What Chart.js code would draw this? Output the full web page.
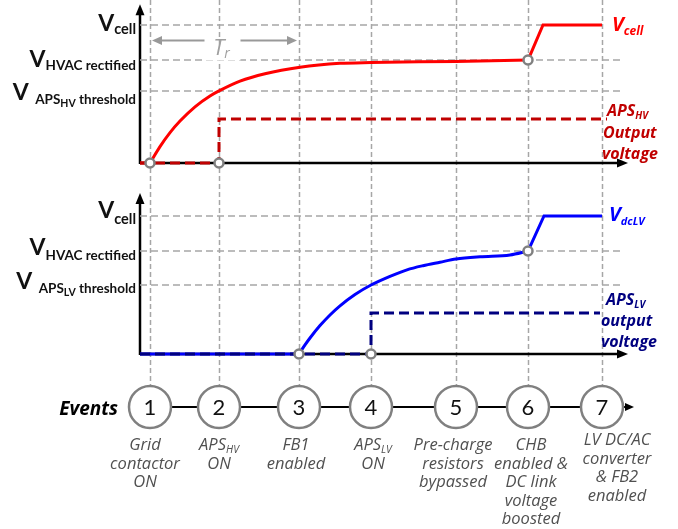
<!DOCTYPE html>
<html><head><meta charset="utf-8">
<script src="https://cdn.jsdelivr.net/npm/chart.js@4.4.0/dist/chart.umd.min.js"></script>
<style>html,body{margin:0;padding:0;background:#fff;}#wrap{position:relative;width:678px;height:529px;}</style>
</head><body><div id="wrap"><canvas id="c" width="678" height="529"></canvas></div>
<script>
// ---- data ----
const eventTimes = [2, 15.8, 31.8, 46.2, 63.2, 77.6, 92.4];
const eventNumbers = ['1','2','3','4','5','6','7'];
const eventDescriptions = [
  ['Grid','contactor','ON'],
  [['APS','HV'],'ON'],
  ['FB1','enabled'],
  [['APS','LV'],'ON'],
  ['Pre-charge','resistors','bypassed'],
  ['CHB','enabled &','DC link','voltage','boosted'],
  ['LV DC/AC','converter','& FB2','enabled']
];
// top panel levels (% of Vcell): Vcell, HVAC rectified, APS_HV threshold
const topLevels = [100, 74.6, 52.2];
const botLevels = [100, 74.6, 50];
// HV side voltage
const hvStartT = [0, 2];            const hvStartV = [0, 0];
const hvCurveT = [2, 4, 6, 8, 11, 14, 15.8, 20, 25, 32, 40, 46.2, 63.2, 77.6];
const hvCurveV = [0, 11.9, 22, 30.4, 40.7, 48.5, 52.2, 59.3, 64.7, 69.4, 72.2, 72.8, 73.6, 74.6];
const hvBoostT = [77.6, 80.6, 92.4]; const hvBoostV = [74.6, 100, 100];
const apsHvT = [0, 15.8, 15.8, 93.4]; const apsHvV = [0, 0, 31.9, 31.9];
// LV side voltage
const lvStartT = [0, 31.8];         const lvStartV = [0, 0];
const lvCurveT = [31.8, 33, 34, 36, 38, 40, 43, 46.2, 50, 53.4, 56.6, 60, 63.2, 68, 74, 77.6];
const lvCurveV = [0, 6.6, 11.6, 20.6, 28.3, 34.9, 43.1, 50, 56.3, 61, 64, 66.5, 68.8, 70.5, 71.8, 74.6];
const lvBoostT = [77.6, 80.8, 92.4]; const lvBoostV = [74.6, 100, 100];
const apsLvT = [0, 46.2, 46.2, 92];  const apsLvV = [0, 0, 29.7, 29.7];
// event markers
const topMarkT = [2, 15.8, 77.6]; const topMarkV = [0, 0, 74.6];
const botMarkT = [31.8, 46.2, 77.6]; const botMarkV = [0, 0, 74.6];

const zip = (t, v) => t.map((x, i) => ({x: x, y: v[i]}));
const GRID = '#a6a6a6';

function lineDs(t, v, axis, color, width, opts) {
  return Object.assign({data: zip(t, v), yAxisID: axis, borderColor: color, backgroundColor: color,
    borderWidth: width, pointRadius: 0, showLine: true, fill: false, tension: 0}, opts || {});
}
function gridDs(level, end, axis) {
  return lineDs([0, end], [level, level], axis, GRID, 1.5, {borderDash: [7, 4], order: 9});
}
function markDs(t, v, axis) {
  return {data: zip(t, v), yAxisID: axis, showLine: false, pointRadius: 4.5, pointBorderWidth: 2.5,
    pointBorderColor: '#808080', pointBackgroundColor: '#ffffff', order: 0};
}

const datasets = [
  gridDs(topLevels[0], 92.6, 'yTop'), gridDs(topLevels[1], 96.4, 'yTop'), gridDs(topLevels[2], 96.4, 'yTop'),
  gridDs(botLevels[0], 92.6, 'yBot'), gridDs(botLevels[1], 96.4, 'yBot'), gridDs(botLevels[2], 96.4, 'yBot'),
  lineDs(hvStartT, hvStartV, 'yTop', '#ff0000', 3, {order: 3}),
  lineDs(hvCurveT, hvCurveV, 'yTop', '#ff0000', 3, {order: 3, cubicInterpolationMode: 'monotone'}),
  lineDs(hvBoostT, hvBoostV, 'yTop', '#ff0000', 3, {order: 3}),
  lineDs(apsHvT, apsHvV, 'yTop', '#c00000', 3, {order: 2, borderDash: [10, 5]}),
  lineDs(lvStartT, lvStartV, 'yBot', '#0000ff', 3, {order: 3}),
  lineDs(lvCurveT, lvCurveV, 'yBot', '#0000ff', 3, {order: 3, cubicInterpolationMode: 'monotone'}),
  lineDs(lvBoostT, lvBoostV, 'yBot', '#0000ff', 3, {order: 3}),
  lineDs(apsLvT, apsLvV, 'yBot', '#000080', 3, {order: 2, borderDash: [10, 5]}),
  markDs(topMarkT, topMarkV, 'yTop'),
  markDs(botMarkT, botMarkV, 'yBot'),
  lineDs([eventTimes[0], 97.4], [0, 0], 'yEv', '#000000', 2, {order: 4}),
  {data: eventTimes.map(t => ({x: t, y: 0})), yAxisID: 'yEv', showLine: false, pointRadius: 21,
   pointBorderWidth: 2.5, pointBorderColor: '#808080', pointBackgroundColor: '#ffffff', order: 1}
];

function rich(ctx, x, y, parts, align) {
  let w = 0;
  parts.forEach(p => { ctx.font = p[1]; w += ctx.measureText(p[0]).width; });
  let sx = align === 'right' ? x - w : (align === 'center' ? x - w / 2 : x);
  ctx.textAlign = 'left';
  parts.forEach(p => {
    ctx.font = p[1]; ctx.fillStyle = p[3];
    ctx.fillText(p[0], sx, y + (p[2] || 0));
    sx += ctx.measureText(p[0]).width;
  });
}
function arrowHead(ctx, tipX, tipY, dir, len, half, color) {
  ctx.fillStyle = color; ctx.beginPath();
  if (dir === 'up') { ctx.moveTo(tipX, tipY); ctx.lineTo(tipX - half, tipY + len); ctx.lineTo(tipX + half, tipY + len); }
  else if (dir === 'right') { ctx.moveTo(tipX, tipY); ctx.lineTo(tipX - len, tipY - half); ctx.lineTo(tipX - len, tipY + half); }
  else { ctx.moveTo(tipX, tipY); ctx.lineTo(tipX + len, tipY - half); ctx.lineTo(tipX + len, tipY + half); }
  ctx.closePath(); ctx.fill();
}

const F = '"Open Sans", Lato, sans-serif';
const L = 'Lato, "Open Sans", sans-serif';
const deco = {
  id: 'deco',
  beforeDatasetsDraw(chart) {
    const ctx = chart.ctx, xs = chart.scales.x, yT = chart.scales.yTop, yB = chart.scales.yBot, yE = chart.scales.yEv;
    ctx.save();
    // vertical event gridlines
    ctx.strokeStyle = GRID; ctx.lineWidth = 1.5; ctx.setLineDash([5, 3]);
    eventTimes.forEach(t => {
      const px = Math.round(xs.getPixelForValue(t)) + 0.5;
      ctx.beginPath(); ctx.moveTo(px, 0); ctx.lineTo(px, yE.getPixelForValue(0) - 21); ctx.stroke();
    });
    ctx.setLineDash([]);
    // axes
    ctx.strokeStyle = '#000'; ctx.lineWidth = 2.5;
    [[yT, 115], [yB, 116.7]].forEach(([ys, top]) => {
      const x0 = xs.getPixelForValue(0), y0 = ys.getPixelForValue(0);
      const xe = xs.getPixelForValue(97.6), ye = ys.getPixelForValue(top);
      ctx.beginPath(); ctx.moveTo(x0, y0); ctx.lineTo(xe - 8, y0); ctx.stroke();
      ctx.beginPath(); ctx.moveTo(x0, y0 + 1); ctx.lineTo(x0, ye + 8); ctx.stroke();
      arrowHead(ctx, xe, y0, 'right', 11, 4.5, '#000');
      arrowHead(ctx, x0, ye, 'up', 11, 4.5, '#000');
    });
    ctx.restore();
  },
  afterDatasetsDraw(chart) {
    const ctx = chart.ctx, xs = chart.scales.x, yT = chart.scales.yTop, yB = chart.scales.yBot, yE = chart.scales.yEv;
    ctx.save();
    ctx.textBaseline = 'alphabetic';
    const K = '#111';
    // left labels, top panel
    const lx = 136;
    rich(ctx, lx, 31, [['V', 'bold 23px ' + L, 0, K], ['cell', 'bold 14.5px ' + L, 3, K]], 'right');
    rich(ctx, lx, 67, [['V', 'bold 23px ' + L, 0, K], ['HVAC rectified', 'bold 13.5px ' + L, 3, K]], 'right');
    rich(ctx, lx, 100, [['V', 'bold 23px ' + L, 0, K], ['  APS', 'bold 13.5px ' + L, 4, K], ['HV', 'bold 10.5px ' + L, 7, K], [' threshold', 'bold 13.5px ' + L, 4, K]], 'right');
    // left labels, bottom panel
    rich(ctx, lx, 218, [['V', 'bold 23px ' + L, 0, K], ['cell', 'bold 14.5px ' + L, 6, K]], 'right');
    rich(ctx, lx, 255, [['V', 'bold 23px ' + L, 0, K], ['HVAC rectified', 'bold 13.5px ' + L, 5, K]], 'right');
    rich(ctx, lx, 289, [['V', 'bold 23px ' + L, 0, K], ['  APS', 'bold 13.5px ' + L, 4, K], ['LV', 'bold 10.5px ' + L, 7, K], [' threshold', 'bold 13.5px ' + L, 4, K]], 'right');
    // right labels
    const BI = 'italic bold ';
    rich(ctx, 612, 31, [['V', BI + '20px ' + F, 0, '#ff0000'], ['cell', BI + '12px ' + F, 4, '#ff0000']], 'left');
    rich(ctx, 607, 116, [['APS', BI + '16px ' + F, 0, '#c00000'], ['HV', BI + '10px ' + F, 3, '#c00000']], 'left');
    rich(ctx, 603, 138, [['Output', BI + '16px ' + F, 0, '#c00000']], 'left');
    rich(ctx, 602, 159, [['voltage', BI + '16px ' + F, 0, '#c00000']], 'left');
    rich(ctx, 609, 221, [['V', BI + '20px ' + F, 0, '#0000ff'], ['dcLV', BI + '11px ' + F, 4, '#0000ff']], 'left');
    rich(ctx, 606, 305, [['APS', BI + '16px ' + F, 0, '#000080'], ['LV', BI + '10px ' + F, 3, '#000080']], 'left');
    rich(ctx, 601, 326, [['output', BI + '16px ' + F, 0, '#000080']], 'left');
    rich(ctx, 601, 347, [['voltage', BI + '16px ' + F, 0, '#000080']], 'left');
    // T_r annotation
    const ay = Math.round(yT.getPixelForValue(89.1)) + 0.5;
    const ax1 = xs.getPixelForValue(2.4), ax2 = xs.getPixelForValue(31.4);
    const cx = (ax1 + ax2) / 2 - 3;
    ctx.fillStyle = '#fff'; ctx.fillRect(cx - 18, ay + 4, 37, 16);
    ctx.strokeStyle = '#999'; ctx.lineWidth = 2;
    ctx.beginPath(); ctx.moveTo(ax1 + 8, ay); ctx.lineTo(cx - 17, ay); ctx.stroke();
    ctx.beginPath(); ctx.moveTo(cx + 19, ay); ctx.lineTo(ax2 - 8, ay); ctx.stroke();
    arrowHead(ctx, ax1, ay, 'left', 10, 4.5, '#999');
    arrowHead(ctx, ax2, ay, 'right', 10, 4.5, '#999');
    rich(ctx, cx, 55, [['T', 'italic 22px ' + F, 0, '#a0a0a0'], ['r', 'italic 14px ' + F, 3, '#a0a0a0']], 'center');
    // events
    const ey = yE.getPixelForValue(0);
    arrowHead(ctx, xs.getPixelForValue(98.8), ey, 'right', 9, 4, '#000');
    rich(ctx, 118, ey + 8, [['Events', 'italic bold 19px ' + F, 0, '#000']], 'right');
    ctx.textBaseline = 'middle';
    eventNumbers.forEach((n, i) => {
      ctx.font = '22px ' + L; ctx.fillStyle = '#111'; ctx.textAlign = 'center';
      ctx.fillText(n, xs.getPixelForValue(eventTimes[i]), ey + 1);
    });
    ctx.textBaseline = 'alphabetic';
    const descShift = [-5, 0, -3, 2, -3, 3, 15];
    const descTop = [450, 450, 450, 450, 450, 450, 445];
    const G = '#505050', DF = 'italic 16.5px ' + F;
    eventDescriptions.forEach((lines, i) => {
      const x = xs.getPixelForValue(eventTimes[i]) + descShift[i];
      lines.forEach((ln, j) => {
        const y = descTop[i] + j * 18.5;
        if (Array.isArray(ln)) rich(ctx, x, y, [[ln[0], DF, 0, G], [ln[1], 'italic 10.5px ' + F, 3, G]], 'center');
        else rich(ctx, x, y, [[ln, DF, 0, G]], 'center');
      });
    });
    ctx.restore();
  }
};

new Chart(document.getElementById('c'), {
  type: 'scatter',
  data: {datasets: datasets},
  options: {
    responsive: false, animation: false, devicePixelRatio: 1,
    layout: {padding: 0, autoPadding: false},
    plugins: {legend: {display: false}, tooltip: {enabled: false}},
    scales: {
      x: {type: 'linear', min: -28, max: 107.6, display: false},
      yTop: {type: 'linear', position: 'left', min: -265.2, max: 118.1, display: false},
      yBot: {type: 'linear', position: 'left', min: -126.8, max: 256.5, display: false},
      yEv: {type: 'linear', position: 'left', min: -122, max: 407, display: false}
    }
  },
  plugins: [deco]
});
</script></body></html>
